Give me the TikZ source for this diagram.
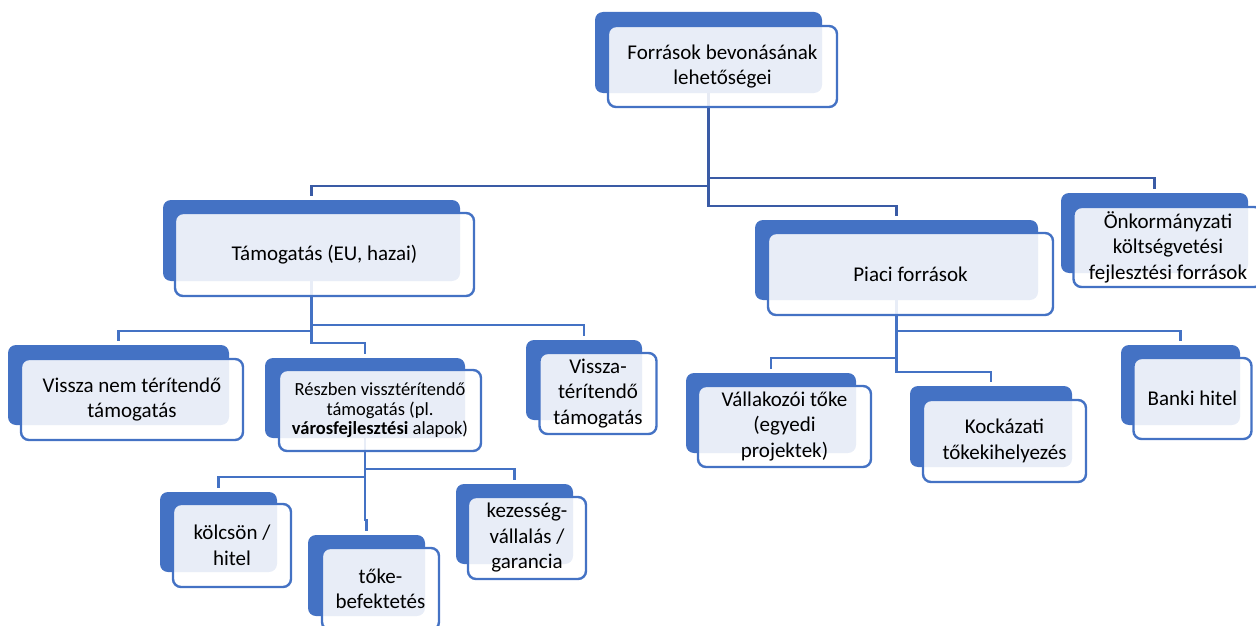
\documentclass[tikz,border=0pt]{standalone}
\usepackage{fontspec}
\setmainfont{Carlito}
\usetikzlibrary{backgrounds}
\definecolor{boxblue}{HTML}{4472C4}
\definecolor{linkdark}{HTML}{3A5BA5}
\tikzset{
  backbox/.style={fill=boxblue, rounded corners=8pt, inner sep=0pt},
  frontbox/.style={draw=boxblue, line width=2.4pt, fill=white, fill opacity=0.88, text opacity=1,
    rounded corners=8pt, inner sep=0pt, align=center, font=\fontsize{21}{25.5}\selectfont},
  link/.style={draw=boxblue, line width=2.2pt},
  toplink/.style={draw=linkdark, line width=2.5pt}
}
\begin{document}
\begin{tikzpicture}[x=1pt, y=-1pt]
\useasboundingbox (0,0) rectangle (1256,626);
% level 0
\node[backbox, minimum width=227pt, minimum height=81pt] (top) at (708.5, 52.5) {};
\node[frontbox, minimum width=229pt, minimum height=81pt] (topF) at (722.5, 66.5) {Források bevonásának\\lehetőségei};
% level 1
\node[backbox, minimum width=297pt, minimum height=81pt] (tam) at (311.5, 240.5) {};
\node[frontbox, minimum width=299pt, minimum height=83pt] (tamF) at (324.5, 254.5) {Támogatás (EU, hazai)};
\node[backbox, minimum width=283pt, minimum height=80pt] (pia) at (896.5, 260) {};
\node[frontbox, minimum width=285pt, minimum height=82pt] (piaF) at (910.5, 274) {Piaci források};
\node[backbox, minimum width=187pt, minimum height=80pt] (onk) at (1154.5, 233) {};
\node[frontbox, minimum width=189pt, minimum height=80pt] (onkF) at (1168, 247) {Önkormányzati\\költségvetési\\fejlesztési források};
% level 2
\node[backbox, minimum width=221pt, minimum height=80pt] (vnt) at (118.5, 385) {};
\node[frontbox, minimum width=222pt, minimum height=81pt] (vntF) at (132, 399.5) {Vissza nem térítendő\\támogatás};
\node[backbox, minimum width=200pt, minimum height=80pt] (res) at (365, 398) {};
\node[frontbox, minimum width=202pt, minimum height=81pt, font=\fontsize{18.5}{19.5}\selectfont] (resF) at (380, 410.5) {Részben vissztérítendő\\támogatás (pl.\\\textbf{városfejlesztési} alapok)};
\node[backbox, minimum width=116pt, minimum height=80pt] (vt) at (584, 380) {};
\node[frontbox, minimum width=117pt, minimum height=81pt] (vtF) at (598, 393.5) {Vissza-\\térítendő\\támogatás};
\node[backbox, minimum width=170pt, minimum height=80pt] (val) at (771, 413) {};
\node[frontbox, minimum width=173pt, minimum height=81pt] (valF) at (784.5, 426.5) {Vállakozói tőke\\(egyedi\\projektek)};
\node[backbox, minimum width=162pt, minimum height=81pt] (koc) at (991, 426.5) {};
\node[frontbox, minimum width=163pt, minimum height=82pt] (kocF) at (1004.5, 441) {Kockázati\\tőkekihelyezés};
\node[backbox, minimum width=119pt, minimum height=80pt] (ban) at (1180.5, 385) {};
\node[frontbox, minimum width=118pt, minimum height=81pt] (banF) at (1192.5, 398.5) {Banki hitel};
% level 3
\node[backbox, minimum width=117pt, minimum height=80pt] (kol) at (218.5, 532) {};
\node[frontbox, minimum width=118pt, minimum height=83pt] (kolF) at (232, 545.5) {kölcsön /\\hitel};
\node[backbox, minimum width=117pt, minimum height=81pt] (tok) at (366.5, 575.5) {};
\node[frontbox, minimum width=117pt, minimum height=82pt] (tokF) at (380.5, 589) {tőke-\\befektetés};
\node[backbox, minimum width=117pt, minimum height=80pt] (kez) at (514.5, 524) {};
\node[frontbox, minimum width=118pt, minimum height=82pt] (kezF) at (527, 538) {kezesség-\\vállalás /\\garancia};
% connectors
\begin{scope}[on background layer]
\draw[toplink] (top.center) -- ++(0, 133.5) -| ([yshift=4pt]tam.north);
\draw[toplink] (top.center) -- ++(0, 125.5) -| ([yshift=4pt]onk.north);
\draw[toplink] (top.center) -- ++(0, 153.5) -| ([yshift=4pt]pia.north);
\draw[link] (tam.center) -- ++(0, 90.5) -| ([yshift=4pt]vnt.north);
\draw[link] (tam.center) -- ++(0, 84.5) -| ([yshift=4pt]vt.north);
\draw[link] (tam.center) -- ++(0, 102.5) -| ([yshift=4pt]res.north);
\draw[link] (pia.center) -- ++(0, 71) -| ([yshift=4pt]ban.north);
\draw[link] (pia.center) -- ++(0, 98) -| ([yshift=4pt]val.north);
\draw[link] (pia.center) -- ++(0, 112) -| ([yshift=4pt]koc.north);
\draw[link] (res.center) -- ++(0, 79) -| ([yshift=4pt]kol.north);
\draw[link] (res.center) -- ++(0, 71) -| ([yshift=4pt]kez.north);
\draw[link] (res.center) -- ++(0, 122) -| ([yshift=4pt]tok.north);
\end{scope}
\end{tikzpicture}
\end{document}
